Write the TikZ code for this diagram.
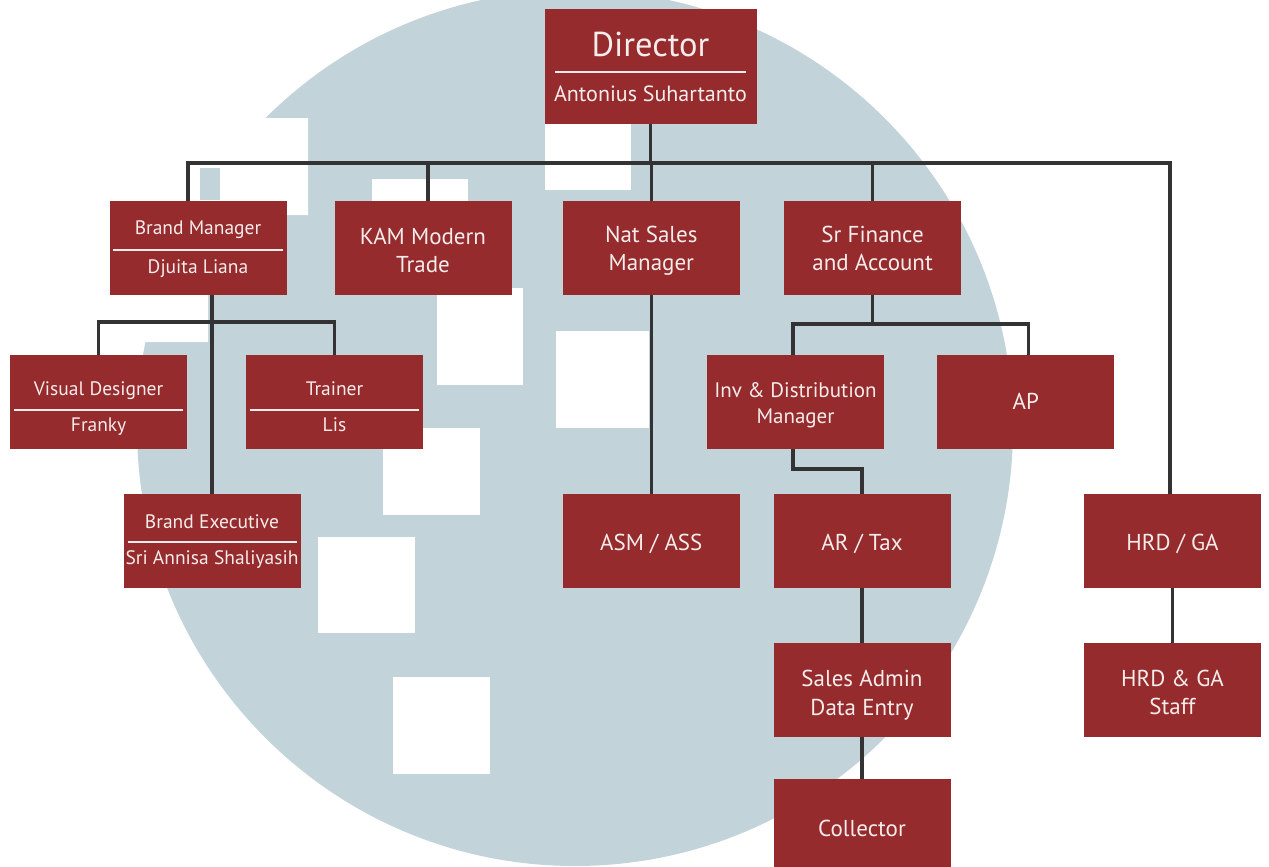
\documentclass[tikz,border=0pt]{standalone}
\usepackage{fontspec}
\setmainfont{PT Sans}
\definecolor{boxred}{HTML}{952B2D}
\definecolor{boxtext}{HTML}{F7ECEC}
\definecolor{wm}{HTML}{C2D3DA}
\definecolor{conncol}{HTML}{333333}
\begin{document}
\begin{tikzpicture}[x=1pt,y=-1pt,
 box/.style={fill=boxred, draw=none, minimum width=177pt, minimum height=94pt, inner sep=0pt, outer sep=0pt},
 lbl/.style={text=boxtext, inner sep=0pt, anchor=base, font=\fontsize{23}{27}\selectfont},
 sublbl/.style={text=boxtext, inner sep=0pt, anchor=base, font=\fontsize{19.5}{23}\selectfont},
 sepline/.style={draw=boxtext, line width=1.8pt},
 conn/.style={draw=conncol, line width=3.2pt},
 wsq/.style={fill=white}
]
\useasboundingbox (0,0) rectangle (1269,867);
\clip (0,0) rectangle (1269,867);
\fill[white] (0,0) rectangle (1269,867);
% watermark
\fill[wm] (575,428) circle[radius=438pt];
\fill[wsq] (100,118) -- (308,118) -- (308,215) -- (208,215) -- (208,342) -- (100,342) -- cycle;
\fill[wm] (200,168) rectangle (220,200);
\fill[wsq] (545,95) rectangle (631,190);
\fill[wsq] (372,179) rectangle (468,265);
\fill[wsq] (437,288) rectangle (523,385);
\fill[wsq] (556,331) rectangle (649,428);
\fill[wsq] (383,428) rectangle (480,515);
\fill[wsq] (318,537) rectangle (415,633);
\fill[wsq] (393,677) rectangle (490,774);

% boxes
\node[box, minimum width=212pt, minimum height=115pt] (dir) at (650.5,66.5) {};
\node[box] (bm) at (198,248) {};
\node[box] (kam) at (423,248) {};
\node[box] (nat) at (651.3,248) {};
\node[box] (fin) at (872.6,248) {};
\node[box] (vd) at (98.6,402.3) {};
\node[box] (tr) at (334.5,402.3) {};
\node[box] (be) at (212,541.3) {};
\node[box] (inv) at (795.5,402.3) {};
\node[box] (ap) at (1025.8,402.3) {};
\node[box] (asm) at (651.3,541.3) {};
\node[box] (ar) at (862,541.3) {};
\node[box] (hrd) at (1172.5,541.3) {};
\node[box] (sa) at (862,690) {};
\node[box] (hrds) at (1172.5,690) {};
\node[box] (col) at (862,826) {};

% connectors
\coordinate (busL) at (188,163);
\coordinate (busR) at (1170,163);
\coordinate (bmtop) at ([xshift=-10pt]bm.north);
\coordinate (kamtop) at ([xshift=5pt]kam.north);
\draw[conn] (bmtop) |- (busR) -- (busR |- hrd.north);
\draw[conn] (dir.south) -- (dir.south |- busL);
\draw[conn] (kamtop) -- (kamtop |- busL);
\draw[conn] (nat.north) -- (nat.north |- busL);
\draw[conn] (fin.north) -- (fin.north |- busL);

\coordinate (bmbus) at (212,322);
\draw[conn] (be.north |- bm.south) -- (be.north);
\draw[conn] (vd.north) -- (vd.north |- bmbus) -- (tr.north |- bmbus) -- (tr.north);

\coordinate (finbus) at (872,324);
\coordinate (invtop) at ([xshift=-2.5pt]inv.north);
\coordinate (aptop) at ([xshift=3pt]ap.north);
\draw[conn] (fin.south) -- (fin.south |- finbus);
\draw[conn] (invtop) -- (invtop |- finbus) -- (aptop |- finbus) -- (aptop);

\coordinate (invbot) at ([xshift=-2.5pt]inv.south);
\coordinate (elbow) at (793,469);
\draw[conn] (invbot) -- (invbot |- elbow) -| (ar.north);

\draw[conn] (nat.south) -- (asm.north);
\draw[conn] (ar.south) -- (sa.north);
\draw[conn] (sa.south) -- (col.north);
\draw[conn] (hrd.south) -- (hrds.north);

% separators
\draw[sepline] ([xshift=10.7pt,yshift=-5.8pt]dir.west) -- ([xshift=-10.7pt,yshift=-5.8pt]dir.east);
\draw[sepline] ([xshift=3.4pt,yshift=-2pt]bm.west) -- ([xshift=-3.4pt,yshift=-2pt]bm.east);
\draw[sepline] ([xshift=3.7pt,yshift=-7.4pt]vd.west) -- ([xshift=-3.7pt,yshift=-7.4pt]vd.east);
\draw[sepline] ([xshift=3.7pt,yshift=-7.4pt]tr.west) -- ([xshift=-3.7pt,yshift=-7.4pt]tr.east);
\draw[sepline] ([xshift=4pt,yshift=-0.4pt]be.west) -- ([xshift=-4pt,yshift=-0.4pt]be.east);

% texts
\node[lbl, font=\fontsize{34.5}{40}\selectfont] (dirT) at (650.5,56.7) {Director};
\node[lbl, font=\fontsize{22}{26}\selectfont] (dirN) at (650.5,101.7) {Antonius Suhartanto};
\node[sublbl] (bmT) at (198,234.3) {Brand Manager};
\node[sublbl] (bmN) at (198,273.3) {Djuita Liana};
\node[sublbl] (vdT) at (98.6,395.7) {Visual Designer};
\node[sublbl] (vdN) at (98.6,431.7) {Franky};
\node[sublbl] (trT) at (334.5,395.7) {Trainer};
\node[sublbl] (trN) at (334.5,431.7) {Lis};
\node[sublbl] (beT) at (212,528.3) {Brand Executive};
\node[sublbl] (beN) at (212,564) {Sri Annisa Shaliyasih};
\node[lbl] (kam1) at (423,244) {KAM Modern};
\node[lbl] (kam2) at (423,272.7) {Trade};
\node[lbl] (nat1) at (651.3,242.3) {Nat Sales};
\node[lbl] (nat2) at (651.3,270.7) {Manager};
\node[lbl] (fin1) at (872.6,242.3) {Sr Finance};
\node[lbl] (fin2) at (872.6,270.7) {and Account};
\node[lbl, font=\fontsize{21}{25}\selectfont] (inv1) at (795.5,397.7) {Inv \& Distribution};
\node[lbl, font=\fontsize{21}{25}\selectfont] (inv2) at (795.5,423.3) {Manager};
\node[lbl] (apT) at (1025.8,409.3) {AP};
\node[lbl] (asmT) at (651.3,550.5) {ASM / ASS};
\node[lbl] (arT) at (862,550) {AR / Tax};
\node[lbl] (hrdT) at (1172.5,550) {HRD / GA};
\node[lbl] (sa1) at (862,686.7) {Sales Admin};
\node[lbl] (sa2) at (862,715) {Data Entry};
\node[lbl] (hs1) at (1172.5,686) {HRD \& GA};
\node[lbl] (hs2) at (1172.5,714) {Staff};
\node[lbl] (colT) at (862,836.7) {Collector};
\end{tikzpicture}
\end{document}
